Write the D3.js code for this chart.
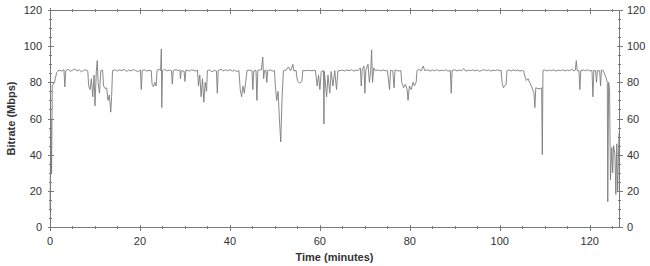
<!DOCTYPE html>
<html>
<head>
<meta charset="utf-8">
<script src="https://cdn.jsdelivr.net/npm/d3@7"></script>
<style>
  html, body { margin: 0; padding: 0; background: #fff; }
  svg { display: block; font-family: "Liberation Sans", Arial, sans-serif; }
</style>
</head>
<body>
<svg id="chart" width="650" height="266"></svg>
<script>
// ---- data ----
const minutes = [
  0, 0.2, 0.35, 0.5, 1.0, 1.5, 2.0, 2.5, 3.1, 3.3,
  3.5, 4.0, 4.5, 5.0, 5.5, 6.0, 6.5, 7.0, 7.5, 8.0,
  8.4, 8.6, 8.9, 9.2, 9.5, 9.8, 10.0, 10.3, 10.5, 10.7,
  11.0, 11.3, 11.7, 11.9, 12.3, 12.6, 12.9, 13.2, 13.5, 13.7,
  13.9, 14.5, 15.0, 15.5, 16.0, 16.5, 17.0, 17.5, 18.0, 18.5,
  19.0, 19.5, 20.1, 20.3, 20.5, 21.0, 21.5, 22.0, 22.5, 22.7,
  23.0, 23.3, 23.6, 23.8, 24.3, 24.6, 24.75, 24.85, 25.0, 25.5,
  26.0, 26.5, 27.0, 27.2, 27.4, 28.0, 28.5, 28.9, 29.0, 29.2,
  29.8, 30.0, 30.2, 31.0, 31.5, 32.0, 32.5, 32.8, 33.0, 33.3,
  33.6, 33.9, 34.2, 34.5, 34.8, 35.0, 35.5, 36.0, 36.5, 37.0,
  37.2, 37.4, 38.0, 38.5, 39.0, 39.5, 40.0, 40.5, 41.0, 41.5,
  42.0, 42.3, 42.6, 42.9, 43.2, 43.5, 43.8, 44.5, 44.9, 45.1,
  45.3, 45.8, 46.0, 46.2, 47.0, 47.3, 47.5, 47.7, 48.0, 48.2,
  48.4, 49.0, 49.5, 49.9, 50.1, 50.4, 50.7, 51.0, 51.3, 51.6,
  51.9, 52.5, 53.0, 53.5, 54.0, 54.2, 54.7, 55.0, 55.5, 56.0,
  56.2, 57.0, 57.5, 58.0, 58.5, 59.0, 59.4, 59.7, 60.0, 60.3,
  60.8, 60.9, 61.0, 61.5, 61.8, 62.2, 62.5, 62.9, 63.3, 63.7,
  64.0, 64.5, 65.0, 65.5, 66.0, 66.5, 67.0, 67.5, 68.0, 68.5,
  69.0, 69.2, 69.4, 69.8, 70.0, 70.2, 70.7, 71.0, 71.3, 71.5,
  71.7, 72.0, 72.3, 73.0, 73.5, 74.0, 74.5, 75.0, 75.5, 75.7,
  76.2, 76.5, 76.7, 77.5, 78.0, 78.2, 78.6, 79.0, 79.4, 79.6,
  79.9, 80.3, 80.7, 81.0, 81.4, 81.6, 82.0, 82.5, 83.0, 83.3,
  84.0, 84.5, 85.0, 85.5, 86.0, 86.5, 87.0, 87.5, 88.0, 88.5,
  89.0, 89.2, 89.4, 90.0, 90.5, 91.0, 91.5, 92.0, 92.5, 93.0,
  93.5, 94.0, 94.5, 95.0, 95.5, 96.0, 96.5, 97.0, 97.5, 98.0,
  98.5, 99.0, 99.5, 100.0, 100.3, 100.5, 100.8, 101.1, 101.4, 101.6,
  102.0, 102.5, 103.0, 103.5, 104.0, 104.5, 105.0, 105.3, 105.5, 105.9,
  106.3, 106.6, 107.0, 107.3, 107.6, 107.8, 108.0, 108.5, 109.0, 109.3,
  109.45, 109.6, 110.0, 110.5, 111.0, 111.5, 112.0, 112.5, 113.0, 113.5,
  114.0, 114.5, 115.0, 115.5, 116.0, 116.5, 116.8, 117.0, 117.2, 117.6,
  117.8, 118.0, 118.5, 119.0, 119.5, 120.0, 120.5, 120.7, 120.9, 121.3,
  121.5, 121.7, 122.2, 122.4, 122.6, 123.0, 123.4, 123.7, 123.9, 124.0,
  124.2, 124.4, 124.6, 124.9, 125.1, 125.3, 125.6, 125.8, 126.0, 126.2,
  126.5
];
const bitrate = [
  9, 60, 30, 78, 80, 85.5, 86.8, 86.2, 86.9, 77.5,
  86.5, 87.2, 86.1, 86.7, 87.4, 86.3, 86.9, 85.8, 86.6, 86.9,
  86.3, 78, 76, 82, 72, 84, 67, 86, 92, 80,
  74, 86.5, 86.8, 78, 76.5, 77, 70, 73, 63.5, 72,
  86.5, 86.9, 86.2, 87.0, 86.4, 87.3, 86.0, 86.8, 86.3, 87.1,
  86.5, 85.9, 86.8, 76, 86.4, 87.0, 86.2, 86.6, 86.4, 79,
  77.5, 80, 78, 86.8, 87.2, 86.5, 98.5, 66, 86.5, 87.1,
  86.3, 86.8, 86.4, 79, 86.6, 87.0, 86.5, 86.8, 82, 86.4,
  86.2, 80.5, 86.8, 86.2, 87.0, 86.5, 86.3, 86.8, 78, 84,
  72, 82, 69, 80, 75, 86.5, 86.9, 85.8, 86.6, 86.3,
  74, 86.5, 87.2, 86.3, 86.9, 86.4, 87.0, 86.2, 86.7, 86.0,
  86.5, 76, 72, 78, 74, 80, 86.5, 86.8, 86.3, 76,
  86.3, 86.6, 70, 86.6, 87.0, 94, 82, 86.5, 86.9, 80,
  86.5, 86.9, 86.2, 86.5, 78, 70, 75, 60, 47, 72,
  86.5, 86.8, 88.5, 86.4, 90, 86.3, 86.6, 81, 79.5, 80.5,
  86.5, 86.5, 86.6, 86.4, 86.5, 86.6, 78, 84, 76, 86,
  86.5, 57, 86, 72, 84, 74, 86, 78, 86.5, 76,
  86.3, 86.5, 86.8, 86.3, 86.9, 86.4, 87.0, 86.2, 86.7, 86.5,
  88, 78, 86.5, 89, 74, 86.5, 90, 80, 86.5, 98,
  80, 88, 86.5, 86.8, 86.3, 86.9, 86.4, 86.5, 76, 86.5,
  86.5, 77, 86.8, 86.3, 86.5, 80, 77, 79, 76, 70,
  78, 76, 80, 78, 80, 86.5, 87.2, 86.3, 89, 86.5,
  86.9, 86.2, 86.8, 86.4, 87.0, 86.3, 86.7, 86.5, 86.9, 86.2,
  86.5, 74, 86.6, 86.9, 86.3, 86.8, 86.4, 87.6, 86.2, 86.7,
  86.5, 86.9, 86.3, 86.8, 86.1, 86.6, 87.0, 86.4, 86.9, 86.2,
  86.7, 86.5, 86.9, 86.4, 86.6, 80, 77, 78, 79, 86.5,
  86.8, 86.3, 86.9, 86.4, 86.7, 86.2, 86.6, 86.3, 84, 81,
  82, 80, 78, 76, 74, 66, 77, 76.5, 76.5, 77,
  40, 86.5, 86.9, 86.3, 86.8, 86.4, 86.9, 86.2, 86.7, 86.5,
  86.9, 86.3, 86.8, 86.4, 87.2, 86.3, 86.8, 92, 86.5, 86.4,
  76, 86.5, 86.8, 86.4, 86.9, 86.3, 86.5, 72, 86.7, 86.5,
  80, 86.5, 86.4, 78, 86.8, 86.5, 84, 82, 80, 14,
  80, 76, 26, 44, 30, 45, 40, 18, 46, 20,
  52
];
const xTicks = [0, 20, 40, 60, 80, 100, 120];
const yTicks = [0, 20, 40, 60, 80, 100, 120];
const xMinorStep = 5;
const yMinorStep = 5;
const xLabel = "Time (minutes)";
const yLabel = "Bitrate (Mbps)";

(function () {
const n = Math.min(minutes.length, bitrate.length);
const points = d3.range(n).map(i => ({ t: minutes[i], v: bitrate[i] }));

// ---- layout ----
const svg = d3.select("#chart");
const L = 50, R = 619, T = 10, B = 227;
const axisColor = "#7a7a7a", textColor = "#333";

const x = d3.scaleLinear().domain([0, 126.5]).range([L, R]);
const y = d3.scaleLinear().domain([0, 120]).range([B, T]);

const xMinor = d3.range(0, 126.5 + 0.001, xMinorStep).filter(v => !xTicks.includes(v));
const yMinor = d3.range(0, 120 + 0.001, yMinorStep).filter(v => !yTicks.includes(v));

// frame
svg.append("rect")
  .attr("x", L + 0.5).attr("y", T + 0.5)
  .attr("width", R - L).attr("height", B - T)
  .attr("fill", "none").attr("stroke", axisColor).attr("stroke-width", 1)
  .attr("shape-rendering", "crispEdges");

function ticks(g, vals, orient, len) {
  vals.forEach(v => {
    if (orient === "bottom" || orient === "top") {
      const px = Math.round(x(v)) + 0.5;
      const py = orient === "bottom" ? B + 0.5 : T + 0.5;
      g.append("line").attr("x1", px).attr("x2", px)
        .attr("y1", py - len).attr("y2", py + len);
    } else {
      const py = Math.round(y(v)) + 0.5;
      const px = orient === "left" ? L + 0.5 : R + 0.5;
      g.append("line").attr("y1", py).attr("y2", py)
        .attr("x1", px - len).attr("x2", px + len);
    }
  });
}
const tg = svg.append("g").attr("stroke", axisColor).attr("stroke-width", 1)
  .attr("shape-rendering", "crispEdges");
["bottom", "top"].forEach(o => { ticks(tg, xTicks, o, 3); ticks(tg, xMinor, o, 1.5); });
["left", "right"].forEach(o => { ticks(tg, yTicks, o, 3); ticks(tg, yMinor, o, 1.5); });

// tick labels
const lab = svg.append("g").attr("fill", textColor).attr("font-size", 11);
xTicks.forEach(v => {
  lab.append("text").attr("x", x(v)).attr("y", 245)
    .attr("text-anchor", "middle").text(v);
});
yTicks.forEach(v => {
  lab.append("text").attr("x", 42).attr("y", y(v) + 4)
    .attr("text-anchor", "end").text(v);
  lab.append("text").attr("x", 627).attr("y", y(v) + 4)
    .attr("text-anchor", "start").text(v);
});

// axis titles
svg.append("text").attr("x", (L + R) / 2).attr("y", 261)
  .attr("text-anchor", "middle").attr("font-size", 11).attr("font-weight", "bold")
  .attr("fill", textColor).text(xLabel);
svg.append("text")
  .attr("transform", `translate(15,${(T + B) / 2}) rotate(-90)`)
  .attr("text-anchor", "middle").attr("font-size", 11).attr("font-weight", "bold")
  .attr("fill", textColor).text(yLabel);

// data line
const line = d3.line().x(d => x(d.t)).y(d => y(d.v));
svg.append("path").datum(points)
  .attr("d", line)
  .attr("fill", "none")
  .attr("stroke", "#7c7c7c")
  .attr("stroke-width", 0.9)
  .attr("stroke-linejoin", "round");
})();
</script>
</body>
</html>
